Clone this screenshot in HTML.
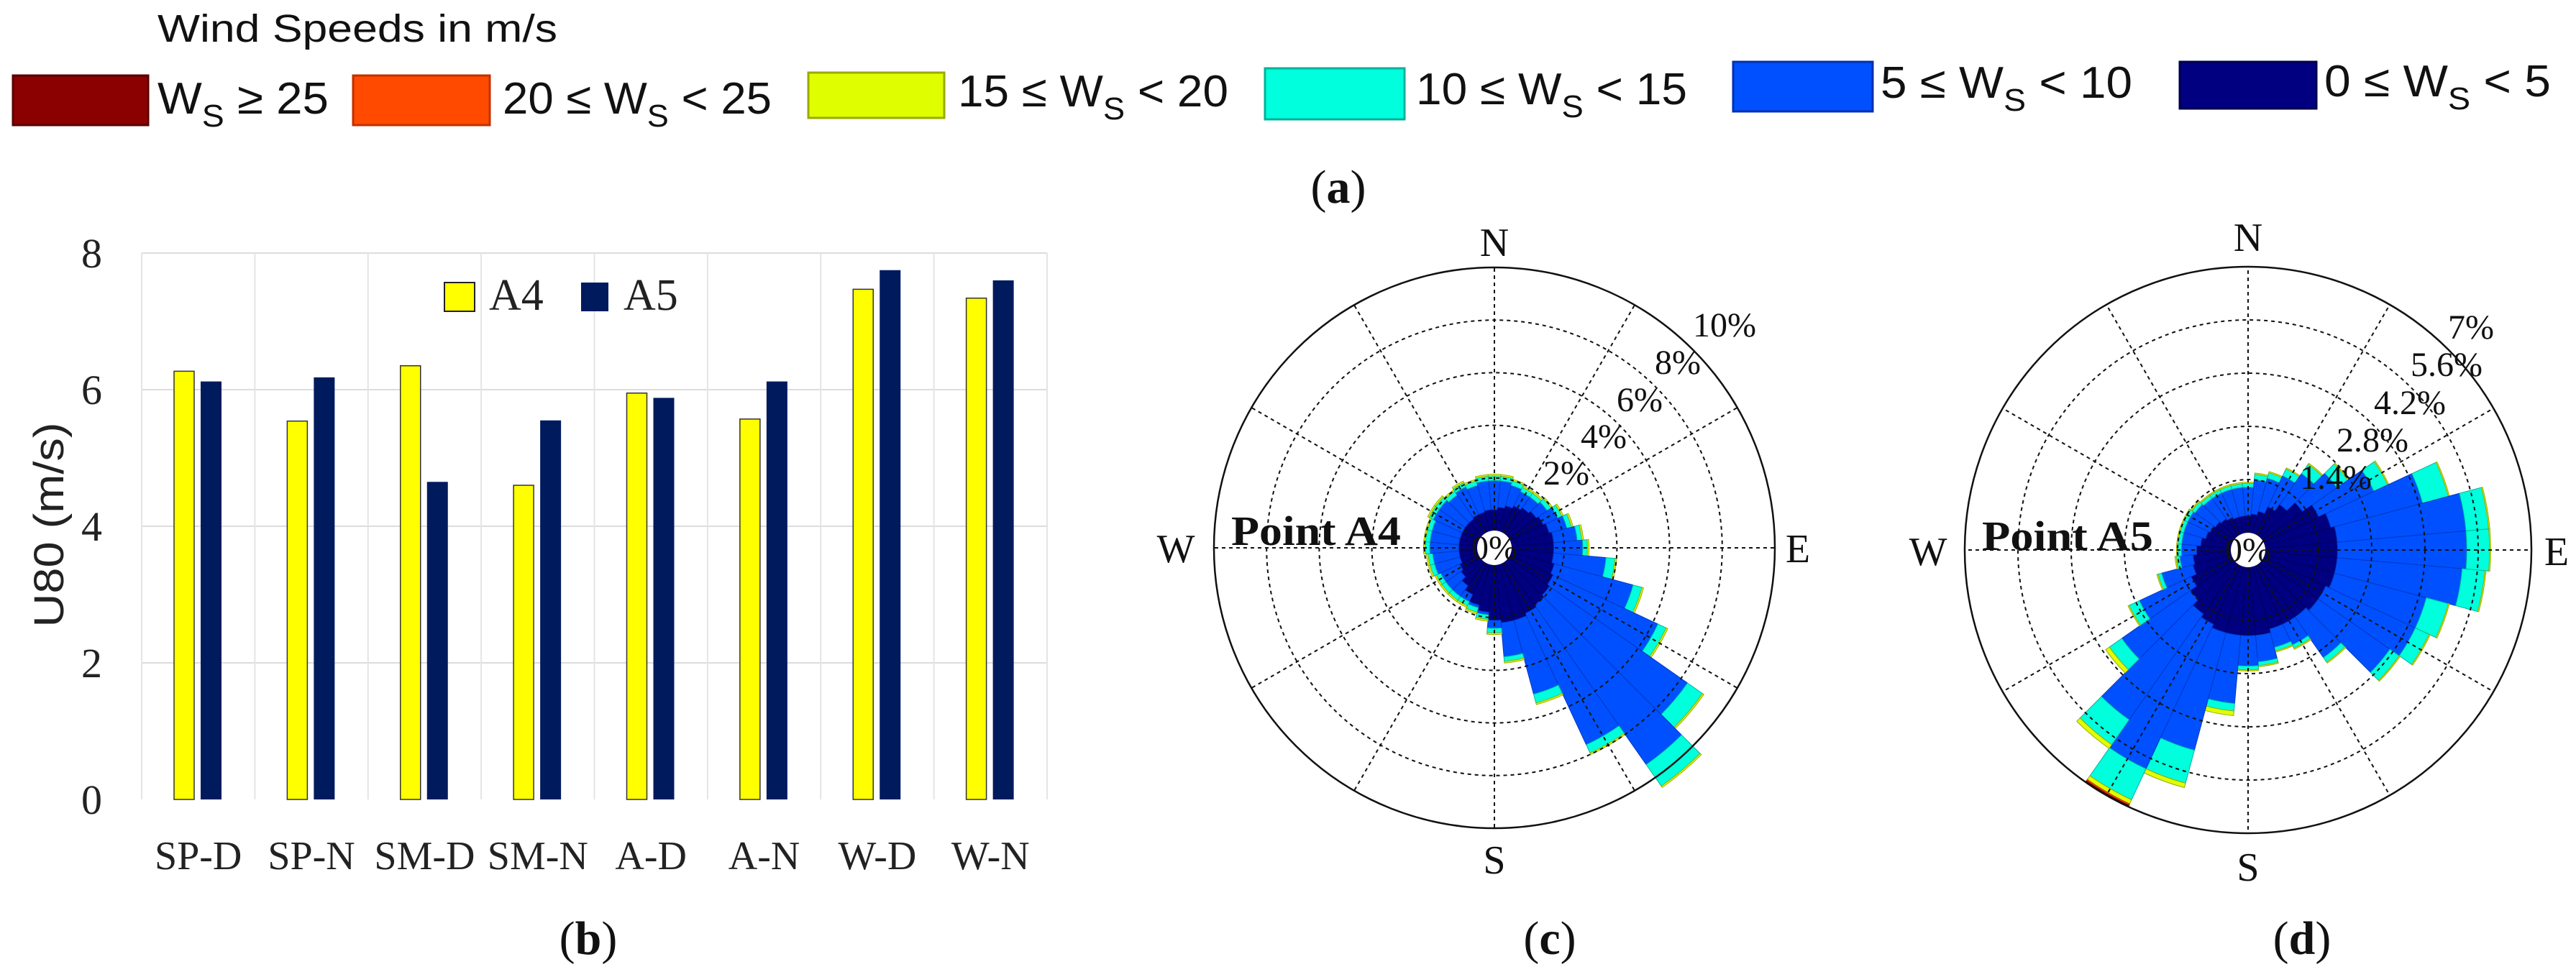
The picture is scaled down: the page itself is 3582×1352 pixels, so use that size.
<!DOCTYPE html>
<html><head><meta charset="utf-8"><style>
html,body{margin:0;padding:0;background:#fff;}
svg{display:block;}
.s{font-family:"Liberation Sans",sans-serif;}
.r{font-family:"Liberation Serif",serif;}
</style></head><body>
<svg id="svg" width="3582" height="1352" viewBox="0 0 3582 1352" xmlns="http://www.w3.org/2000/svg">
<rect width="3582" height="1352" fill="#fff"/>
<text class="s" x="219" y="58" font-size="54" textLength="556" lengthAdjust="spacingAndGlyphs" fill="#111">Wind Speeds in m/s</text>
<rect x="18" y="105" width="188" height="69" fill="#8b0000" stroke="#5a0000" stroke-width="3"/>
<rect x="491" y="105" width="190" height="69" fill="#ff4a00" stroke="#c03000" stroke-width="3"/>
<rect x="1124" y="101" width="189" height="63" fill="#dfff00" stroke="#9aaa00" stroke-width="3"/>
<rect x="1759" y="95" width="194" height="71" fill="#00ffdd" stroke="#00b39a" stroke-width="3"/>
<rect x="2410" y="86" width="194" height="69" fill="#0050ff" stroke="#0030b0" stroke-width="3"/>
<rect x="3031" y="86" width="190" height="65" fill="#000080" stroke="#000050" stroke-width="3"/>
<g class="s" font-size="62" fill="#111">
<text x="219" y="158" textLength="238" lengthAdjust="spacingAndGlyphs">W<tspan font-size="44" dy="18">S</tspan><tspan dy="-18"> ≥ 25</tspan></text>
<text x="699" y="158" textLength="374" lengthAdjust="spacingAndGlyphs">20 ≤ W<tspan font-size="44" dy="18">S</tspan><tspan dy="-18"> &lt; 25</tspan></text>
<text x="1332" y="148" textLength="376" lengthAdjust="spacingAndGlyphs">15 ≤ W<tspan font-size="44" dy="18">S</tspan><tspan dy="-18"> &lt; 20</tspan></text>
<text x="1969" y="145" textLength="377" lengthAdjust="spacingAndGlyphs">10 ≤ W<tspan font-size="44" dy="18">S</tspan><tspan dy="-18"> &lt; 15</tspan></text>
<text x="2615" y="136" textLength="350" lengthAdjust="spacingAndGlyphs">5 ≤ W<tspan font-size="44" dy="18">S</tspan><tspan dy="-18"> &lt; 10</tspan></text>
<text x="3232" y="134" textLength="315" lengthAdjust="spacingAndGlyphs">0 ≤ W<tspan font-size="44" dy="18">S</tspan><tspan dy="-18"> &lt; 5</tspan></text>
</g>
<text class="r" x="1861" y="282" font-size="66" text-anchor="middle" fill="#111">(<tspan font-weight="bold">a</tspan>)</text>

<g id="bars"></g>
<g class="r" font-size="58" fill="#222" text-anchor="end">
<text x="142" y="1132">0</text>
<text x="142" y="942">2</text>
<text x="142" y="752">4</text>
<text x="142" y="562">6</text>
<text x="142" y="372">8</text>
</g>
<text class="s" font-size="58" fill="#222" text-anchor="middle" transform="translate(88,730) rotate(-90)" textLength="285" lengthAdjust="spacingAndGlyphs">U80 (m/s)</text>
<g class="r" font-size="56" fill="#222" text-anchor="middle" id="xl"></g>
<rect x="618" y="393" width="42" height="40" fill="#ffff00" stroke="#222" stroke-width="2"/>
<text class="r" x="680" y="431" font-size="62" fill="#222">A4</text>
<rect x="808" y="393" width="38" height="40" fill="#001a5e"/>
<text class="r" x="867" y="431" font-size="62" fill="#222">A5</text>
<text class="r" x="818" y="1327" font-size="66" text-anchor="middle" fill="#111">(<tspan font-weight="bold">b</tspan>)</text>

<g id="roseC"></g>
<g class="r" font-size="56" fill="#111" text-anchor="middle">
<text x="2078" y="356">N</text>
<text x="2078" y="1215">S</text>
<text x="1635" y="782">W</text>
<text x="2500" y="782">E</text>
</g>
<g class="r" font-size="48" fill="#111" text-anchor="middle">
<text x="2398" y="468">10%</text>
<text x="2333" y="520">8%</text>
<text x="2280" y="572">6%</text>
<text x="2230" y="623">4%</text>
<text x="2178" y="674">2%</text>
<text x="2078" y="778">0%</text>
</g>
<text class="r" x="1712" y="758" font-size="58" font-weight="bold" fill="#111" textLength="236" lengthAdjust="spacingAndGlyphs">Point A4</text>
<text class="r" x="2155" y="1327" font-size="66" text-anchor="middle" fill="#111">(<tspan font-weight="bold">c</tspan>)</text>

<g id="roseD"></g>
<g class="r" font-size="56" fill="#111" text-anchor="middle">
<text x="3126" y="349">N</text>
<text x="3126" y="1225">S</text>
<text x="2681" y="786">W</text>
<text x="3555" y="786">E</text>
</g>
<g class="r" font-size="48" fill="#111" text-anchor="middle">
<text x="3436" y="471">7%</text>
<text x="3402" y="523">5.6%</text>
<text x="3351" y="576">4.2%</text>
<text x="3299" y="628">2.8%</text>
<text x="3248" y="680">1.4%</text>
<text x="3126" y="781">0%</text>
</g>
<text class="r" x="2756" y="765" font-size="58" font-weight="bold" fill="#111" textLength="238" lengthAdjust="spacingAndGlyphs">Point A5</text>
<text class="r" x="3201" y="1327" font-size="66" text-anchor="middle" fill="#111">(<tspan font-weight="bold">d</tspan>)</text>
</svg>
<script>
var NS="http://www.w3.org/2000/svg";
function el(p,t,a){var e=document.createElementNS(NS,t);for(var k in a)e.setAttribute(k,a[k]);p.appendChild(e);return e;}
var g=document.getElementById('bars');
var x0=197,x1=1456,y0=1112,u=95,cw=(x1-x0)/8;
for(var i=1;i<=4;i++)el(g,'line',{x1:x0,x2:x1,y1:y0-2*i*u,y2:y0-2*i*u,stroke:'#dcdcdc','stroke-width':2});
for(var i=0;i<=8;i++)el(g,'line',{x1:x0+i*cw,x2:x0+i*cw,y1:y0-8*u,y2:y0,stroke:'#e4e4e4','stroke-width':2});
var A4=[6.27,5.54,6.35,4.6,5.95,5.57,7.47,7.34],A5=[6.12,6.18,4.65,5.55,5.88,6.12,7.75,7.6];
var labs=['SP-D','SP-N','SM-D','SM-N','A-D','A-N','W-D','W-N'];
var xl=document.getElementById('xl');
for(var i=0;i<8;i++){var cx=x0+i*cw;
el(g,'rect',{x:cx+45,y:y0-A4[i]*u,width:28,height:A4[i]*u,fill:'#ffff00',stroke:'#333','stroke-width':1.5});
el(g,'rect',{x:cx+82,y:y0-A5[i]*u,width:29,height:A5[i]*u,fill:'#001a5e'});
var t=el(xl,'text',{x:cx+cw/2,y:1209});t.textContent=labs[i];}
var cols=['#000080','#0050ff','#00ffdd','#dfff00','#ff4a00','#8b0000'];
var scols=['#00005a','#0038c0','#00b39a','#9aaa00','#c03000','#5a0000'];
function wedge(p,cx,cy,r0,r1,b0,b1,fill,st){
 function pt(r,b){var a=b*Math.PI/180;return [cx+r*Math.sin(a),cy-r*Math.cos(a)];}
 var a=pt(r0,b0),b=pt(r1,b0),c=pt(r1,b1),d=pt(r0,b1);
 var dd='M'+a+' L'+b+' A'+r1+' '+r1+' 0 0 1 '+c+' L'+d+' A'+r0+' '+r0+' 0 0 0 '+a+'Z';
 el(p,'path',{d:dd,fill:fill,stroke:st,'stroke-width':1});
}
function rose(id,cx,cy,R,maxp,nring,data){
 var p=document.getElementById(id);var h=24;var k=(R-h)/maxp;
 for(var i=0;i<36;i++){var b=i*10;var prev=0;var d=data[i];
  for(var j=0;j<d.length;j++){if(d[j]<=prev)continue;
   wedge(p,cx,cy,h+prev*k,h+d[j]*k,b-5,b+5,cols[j],scols[j]);prev=d[j];}}
 for(var i=1;i<nring;i++)el(p,'circle',{cx:cx,cy:cy,r:h+(R-h)*i/nring,fill:'none',stroke:'#111','stroke-width':2,'stroke-dasharray':'5,5'});
 el(p,'circle',{cx:cx,cy:cy,r:R,fill:'none',stroke:'#111','stroke-width':2.5});
 for(var a=0;a<360;a+=30){var r=a*Math.PI/180;
  el(p,'line',{x1:cx+h*Math.sin(r),y1:cy-h*Math.cos(r),x2:cx+R*Math.sin(r),y2:cy-R*Math.cos(r),stroke:'#111','stroke-width':2,'stroke-dasharray':'5,5'});}
 el(p,'circle',{cx:cx,cy:cy,r:h,fill:'#fff'});
}
var tot4=[1.9,1.9,1.8,1.7,1.7,1.8,2.0,2.2,2.5,2.7,3.6,4.8,6.2,8.3,9.4,7.6,5.1,3.5,2.4,1.9,1.7,1.6,1.6,1.6,1.6,1.7,1.7,1.8,1.8,1.8,1.9,1.9,1.8,1.9,1.8,1.9];
var nv4=[0.8,0.9,1.0,1.1,1.2,1.3,1.4,1.5,1.6,1.6,1.6,1.7,1.8,1.9,2.0,2.1,2.2,2.2,2.1,1.9,1.6,1.3,1.1,0.9,0.8,0.7,0.7,0.7,0.7,0.7,0.7,0.7,0.7,0.75,0.75,0.8];
var d4=[];for(var i=0;i<36;i++){var b=i*10;var bl=tot4[i];
 var cy=(b>=100&&b<=160)?(b==140?1.0:(b==130?0.7:0.35)):0.18;
 d4.push([Math.min(nv4[i],bl-0.1),bl,bl+cy,bl+cy+0.06]);}
rose('roseC',2078,762,390,10,5,d4);
var tot5=[1.2,1.4,1.5,1.7,2.0,2.4,3.2,4.3,5.3,5.3,5.2,4.4,4.4,4.1,3.0,2.3,2.2,2.5,2.6,3.6,5.0,5.9,5.0,3.6,2.7,1.9,1.35,1.3,1.3,1.3,1.3,1.25,1.2,1.2,1.2,1.2];
var cy5=[0.1,0.15,0.15,0.2,0.3,0.35,0.4,0.7,0.6,0.6,0.6,0.6,0.4,0.3,0.15,0.1,0.1,0.1,0.1,0.2,0.9,0.9,0.8,0.4,0.3,0.1,0.1,0.1,0.1,0.1,0.1,0.1,0.1,0.1,0.1,0.1];
var nv5=[0.45,0.5,0.6,0.8,1.0,1.3,1.6,1.8,1.9,1.9,1.9,1.9,1.8,1.8,1.7,1.7,1.7,1.8,1.8,1.8,1.8,1.7,1.6,1.4,1.2,1.05,1.0,0.9,0.8,0.7,0.65,0.6,0.55,0.5,0.45,0.45];
var d5=[];for(var i=0;i<36;i++){var bl=tot5[i],c=bl+cy5[i];var y=c+((i>=19&&i<=23)?0.12:0.03);
 var arr=[Math.min(nv5[i],bl-0.1),bl,c,y];if(i==21){arr.push(y+0.04,y+0.06);}d5.push(arr);}
rose('roseD',3126,765,394,7,5,d5);
</script>
</body></html>
